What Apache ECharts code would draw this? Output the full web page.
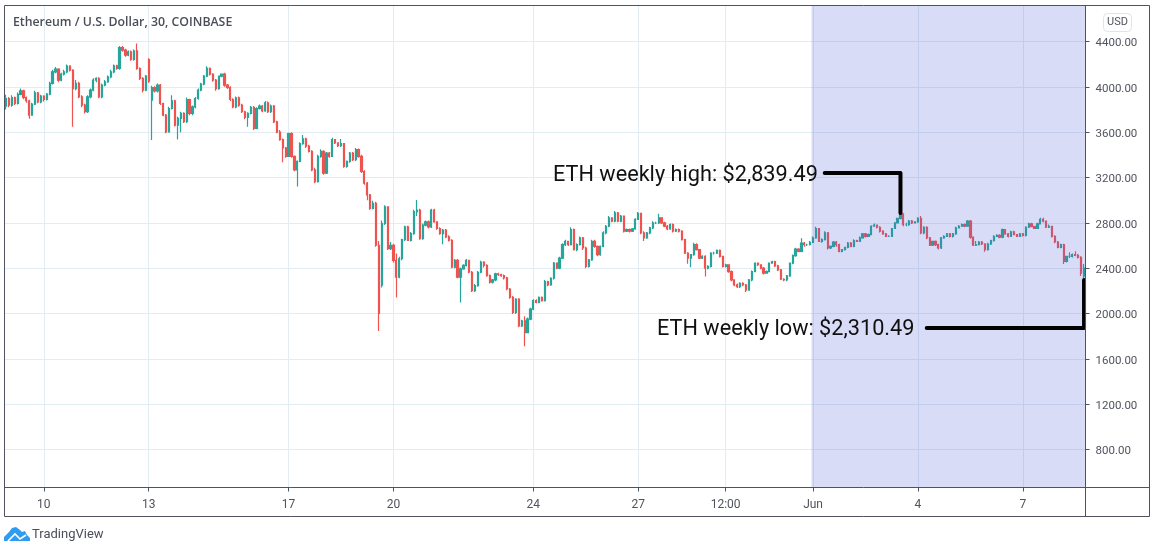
<!DOCTYPE html>
<html>
<head>
<meta charset="utf-8">
<style>html,body{margin:0;padding:0;background:#fff}#c{width:1156px;height:553px}</style>
<script src="https://cdn.jsdelivr.net/npm/echarts@6/dist/echarts.min.js"></script>
</head>
<body>
<div id="c"></div>
<script>
const opens = [
3830,3897,3838,3906,3853,3933,3965,3906,3877,3750,
3847,3947,3868,3918,3888,3935,4030,4132,4156,4059,
4112,4132,4182,4147,3985,4030,3912,3838,3780,3912,
3971,4059,4074,3912,4015,4044,4088,4132,4185,4162,
4347,4324,4279,4309,4241,4318,4162,4074,3971,4240,
3882,3994,3965,4015,3853,3750,3603,3809,3877,3662,
3721,3765,3692,3888,3765,3824,3897,3971,4024,4094,
4162,4112,4059,3985,4094,4112,4015,3994,3888,3824,
3903,3838,3780,3730,3765,3818,3633,3809,3830,3788,
3859,3780,3830,3691,3600,3535,3461,3387,3588,3387,
3268,3342,3499,3541,3476,3431,3268,3164,3387,3431,
3239,3416,3387,3535,3505,3481,3499,3298,3342,3416,
3357,3446,3387,3253,3150,3046,2927,2972,2602,2250,
2794,2942,2572,2601,2468,2320,2483,2652,2764,2646,
2705,2898,2913,2661,2779,2809,2764,2913,2809,2750,
2705,2735,2676,2646,2409,2468,2320,2394,2424,2468,
2364,2201,2246,2364,2453,2424,2335,2276,2296,2350,
2344,2335,2314,2216,2142,2009,2127,1890,1935,1831,
1950,2038,2113,2098,2142,2113,2281,2252,2311,2444,
2400,2489,2607,2637,2607,2741,2563,2607,2667,2578,
2415,2474,2637,2593,2519,2593,2711,2770,2844,2815,
2889,2815,2859,2726,2741,2726,2747,2830,2883,2711,
2667,2711,2755,2800,2800,2844,2800,2770,2747,2785,
2726,2741,2726,2652,2533,2489,2519,2607,2563,2489,
2504,2400,2415,2533,2533,2557,2504,2415,2430,2370,
2296,2252,2237,2267,2252,2207,2296,2370,2444,2430,
2400,2356,2370,2444,2459,2421,2385,2302,2296,2332,
2444,2510,2569,2548,2622,2607,2607,2628,2667,2750,
2637,2652,2711,2578,2593,2631,2607,2548,2563,2584,
2622,2593,2643,2637,2667,2702,2681,2696,2770,2779,
2761,2726,2702,2681,2681,2750,2800,2839,2880,2785,
2785,2815,2800,2809,2839,2711,2761,2667,2602,2637,
2607,2578,2667,2681,2702,2681,2702,2756,2770,2785,
2770,2815,2673,2602,2607,2631,2613,2563,2613,2643,
2681,2690,2673,2741,2702,2681,2720,2696,2681,2702,
2690,2761,2791,2767,2750,2791,2830,2815,2761,2770,
2681,2631,2584,2607,2459,2504,2504,2519,2513,2495,2330];
const closes = [
3897,3838,3906,3853,3933,3965,3906,3877,3750,3847,
3947,3868,3918,3888,3935,4030,4132,4156,4059,4112,
4132,4182,4147,3985,4030,3912,3838,3780,3912,3971,
4059,4074,3912,4015,4044,4088,4132,4185,4162,4347,
4324,4279,4309,4241,4318,4162,4074,3971,4094,4050,
3994,3965,4015,3853,3750,3603,3809,3877,3662,3721,
3765,3692,3888,3765,3824,3897,3971,4024,4094,4162,
4112,4059,3985,4094,4112,4015,3994,3888,3824,3903,
3838,3780,3730,3765,3818,3633,3809,3830,3788,3859,
3780,3830,3691,3600,3535,3461,3387,3588,3387,3268,
3342,3499,3541,3476,3431,3268,3164,3387,3431,3239,
3416,3387,3535,3505,3481,3499,3298,3342,3416,3357,
3446,3387,3253,3150,3046,2927,2972,2602,2000,2794,
2942,2572,2601,2468,2320,2483,2652,2764,2646,2705,
2898,2913,2661,2779,2809,2764,2913,2809,2750,2705,
2735,2676,2646,2409,2468,2320,2394,2424,2468,2364,
2201,2246,2364,2453,2424,2335,2276,2296,2350,2344,
2335,2314,2216,2142,2009,2127,1890,1935,1831,1950,
2038,2113,2098,2142,2113,2281,2252,2311,2444,2400,
2489,2607,2637,2607,2741,2563,2607,2667,2578,2415,
2474,2637,2593,2519,2593,2711,2770,2844,2815,2889,
2815,2859,2726,2741,2726,2747,2830,2883,2711,2667,
2711,2755,2800,2800,2844,2800,2770,2747,2785,2726,
2741,2726,2652,2533,2489,2519,2607,2563,2489,2504,
2400,2415,2533,2533,2557,2504,2415,2430,2370,2296,
2252,2237,2267,2252,2207,2296,2370,2444,2430,2400,
2356,2370,2444,2459,2421,2385,2302,2296,2332,2444,
2510,2569,2548,2622,2607,2607,2628,2667,2750,2637,
2652,2711,2578,2593,2631,2607,2548,2563,2584,2622,
2593,2643,2637,2667,2702,2681,2696,2770,2779,2761,
2726,2702,2681,2681,2750,2800,2839,2880,2785,2785,
2815,2800,2809,2839,2711,2761,2667,2602,2637,2607,
2578,2667,2681,2702,2681,2702,2756,2770,2785,2770,
2815,2673,2602,2607,2631,2613,2563,2613,2643,2681,
2690,2673,2741,2702,2681,2720,2696,2681,2702,2690,
2761,2791,2767,2750,2791,2830,2815,2761,2770,2681,
2631,2584,2607,2459,2504,2504,2519,2513,2495,2356,2400];
const highs = [
3930,3910,3925,3915,3950,3985,3975,3915,3885,3860,
3965,3955,3930,3925,3945,4045,4150,4176,4165,4125,
4150,4196,4190,4155,4060,4045,3925,3850,3925,3985,
4075,4085,4085,4030,4060,4100,4150,4197,4195,4360,
4360,4335,4320,4320,4330,4382,4170,4085,4105,4253,
4010,4006,4030,4025,3860,3760,3825,3925,3885,3735,
3780,3775,3905,3895,3835,3910,3985,4035,4105,4182,
4170,4120,4070,4000,4110,4125,4025,4005,3900,3915,
3915,3850,3790,3775,3830,3830,3820,3845,3840,3875,
3870,3845,3840,3700,3620,3545,3470,3595,3600,3395,
3350,3510,3575,3550,3490,3440,3285,3400,3450,3440,
3425,3425,3550,3540,3505,3540,3505,3350,3425,3425,
3460,3455,3400,3265,3160,3055,2995,2985,2640,2820,
2955,2945,2630,2615,2530,2500,2660,2775,2775,2720,
2915,3001,2925,2795,2820,2820,2925,2925,2815,2760,
2745,2745,2690,2655,2480,2480,2405,2435,2480,2475,
2375,2260,2375,2465,2460,2435,2345,2305,2360,2360,
2350,2345,2325,2225,2155,2135,2135,1945,1975,1965,
2050,2125,2125,2150,2150,2295,2290,2320,2455,2450,
2500,2620,2650,2640,2762,2750,2620,2680,2675,2590,
2480,2650,2650,2600,2600,2725,2780,2860,2850,2905,
2895,2870,2865,2750,2750,2755,2840,2895,2885,2725,
2720,2765,2815,2810,2880,2850,2810,2780,2795,2795,
2750,2750,2735,2660,2540,2525,2625,2620,2570,2515,
2515,2425,2540,2545,2565,2565,2510,2440,2435,2380,
2300,2265,2275,2275,2260,2305,2380,2450,2450,2435,
2410,2380,2450,2465,2465,2430,2392,2310,2340,2450,
2520,2580,2575,2665,2630,2615,2640,2680,2765,2755,
2665,2725,2720,2600,2640,2640,2615,2570,2590,2630,
2630,2655,2650,2680,2710,2710,2705,2778,2795,2785,
2770,2735,2710,2690,2755,2805,2845,2898,2885,2800,
2825,2825,2815,2850,2860,2770,2770,2675,2640,2645,
2615,2675,2690,2710,2710,2710,2765,2780,2795,2795,
2825,2825,2680,2640,2640,2640,2620,2625,2650,2690,
2700,2700,2750,2745,2710,2730,2730,2700,2710,2710,
2770,2800,2800,2775,2800,2845,2845,2820,2785,2775,
2690,2640,2615,2615,2510,2540,2530,2550,2525,2505,2436];
const lows = [
3800,3820,3825,3840,3845,3925,3890,3860,3718,3745,
3840,3855,3855,3870,3880,3925,4020,4120,4040,4050,
4100,4120,4135,3647,3970,3900,3820,3765,3770,3900,
3960,4040,3900,3900,4005,4035,4075,4120,4150,4150,
4310,4265,4270,4230,4230,4150,4060,3950,3960,4035,
3530,3950,3950,3840,3740,3590,3595,3800,3650,3535,
3600,3680,3680,3750,3750,3810,3885,3960,4015,4085,
4100,4045,3965,3975,4085,4000,3980,3875,3810,3810,
3825,3770,3715,3647,3755,3620,3625,3800,3775,3780,
3770,3770,3680,3590,3525,3335,3375,3380,3375,3255,
3120,3335,3490,3460,3420,3255,3150,3155,3375,3225,
3230,3375,3380,3495,3470,3470,3285,3285,3330,3345,
3345,3375,3240,3135,3000,2915,2920,2590,1846,2230,
2780,2560,2560,2450,2142,2310,2470,2640,2640,2635,
2695,2860,2650,2650,2770,2750,2755,2800,2740,2695,
2610,2665,2635,2400,2400,2310,2098,2385,2415,2355,
2190,2190,2235,2355,2405,2325,2265,2265,2285,2330,
2325,2300,2205,2130,1995,1995,1880,1880,1712,1825,
1940,2030,2090,2090,2105,2105,2240,2245,2300,2390,
2390,2480,2595,2595,2600,2555,2550,2600,2560,2400,
2405,2465,2580,2505,2510,2585,2700,2760,2805,2805,
2805,2805,2715,2720,2715,2720,2740,2825,2700,2640,
2660,2700,2745,2790,2790,2790,2760,2735,2740,2715,
2720,2715,2645,2525,2440,2409,2510,2555,2480,2480,
2326,2390,2405,2520,2525,2495,2405,2405,2360,2285,
2240,2225,2225,2240,2190,2200,2285,2365,2420,2390,
2345,2350,2365,2440,2410,2375,2295,2285,2285,2325,
2435,2500,2540,2540,2590,2595,2600,2620,2660,2630,
2625,2645,2565,2570,2585,2590,2540,2540,2555,2575,
2585,2585,2630,2630,2660,2670,2675,2690,2765,2750,
2715,2695,2675,2675,2675,2745,2795,2830,2770,2770,
2775,2790,2795,2800,2700,2700,2655,2595,2595,2595,
2565,2570,2660,2675,2670,2670,2695,2750,2765,2760,
2765,2660,2595,2595,2600,2605,2545,2555,2605,2635,
2675,2665,2665,2695,2670,2675,2690,2675,2675,2680,
2680,2755,2760,2745,2745,2785,2805,2755,2755,2670,
2620,2575,2575,2436,2450,2490,2495,2505,2485,2330,2311];

const xTickIndex = [13,49,97,133,181,217,247,277,313,349];
const xTickLabels = ['10','13','17','20','24','27','12:00','Jun','4','7'];
const yTicks = [800,1200,1600,2000,2400,2800,3200,3600,4000,4400];
const highCallout = [[281,3240],[307,3240],[307,2887]];
const lowCallout = [[316,1872],[369.7,1872],[369.7,2296]];
const highText = 'ETH weekly high: $2,839.49';
const lowText = 'ETH weekly low: $2,310.49';

const categories = opens.map((_, i) => new Date(Date.UTC(2021, 4, 8, 22 + 2 * i)).toISOString().slice(0, 16));
const candles = opens.map((o, i) => [o, closes[i], lows[i], highs[i]]);
const isTick = i => xTickIndex.indexOf(i) >= 0;
const ink = '#50535e', gridCol = '#e1ecf3';
const uiFont = 'Roboto';

const chart = echarts.init(document.getElementById('c'), null, {renderer: 'canvas'});
chart.setOption({
  animation: false,
  backgroundColor: '#fff',
  grid: {left: 4.5, right: 70.5, top: 5.5, bottom: 65.5, containLabel: false},
  xAxis: {
    type: 'category', data: categories, boundaryGap: true,
    axisLine: {show: false},
    axisTick: {show: true, length: 4, alignWithLabel: true, interval: i => isTick(i), lineStyle: {color: ink}},
    axisLabel: {show: true, interval: i => isTick(i), formatter: (v, i) => xTickLabels[xTickIndex.indexOf(i)] || '', color: ink, fontFamily: uiFont, fontSize: 12, margin: 11},
    splitLine: {show: true, alignWithLabel: true, interval: i => isTick(i), lineStyle: {color: gridCol, width: 1}}
  },
  yAxis: {
    type: 'value', position: 'right', min: 464.7, max: 4717.6, scale: true,
    axisLine: {show: false},
    axisTick: {show: true, length: 4, customValues: yTicks, lineStyle: {color: ink}},
    axisLabel: {show: true, customValues: yTicks, formatter: v => '{p|' + v.toFixed(2) + '}', margin: 10,
      rich: {p: {color: ink, fontFamily: uiFont, fontSize: 11.5, padding: [4, 0, 0, 0]}}},
    splitLine: {show: true, lineStyle: {color: gridCol, width: 1}}
  },
  series: [
    {type: 'candlestick', data: candles, barWidth: 1.7, z: 2,
     itemStyle: {color: '#26a69a', color0: '#ef5350', borderColor: '#26a69a', borderColor0: '#ef5350', borderWidth: 1.2}},
    {type: 'line', data: [], z: 5, silent: true,
     markArea: {silent: true, z: 5, itemStyle: {color: 'rgba(84,97,216,0.225)'}, data: [[{x: 811.5, y: 5.5}, {x: 1085.5, y: 487.5}]]}},
    {type: 'line', data: highCallout, z: 8, silent: true, showSymbol: false, symbol: 'none', lineStyle: {color: '#000', width: 4, cap: 'round', join: 'round'}},
    {type: 'line', data: lowCallout, z: 8, silent: true, showSymbol: false, symbol: 'none', lineStyle: {color: '#000', width: 4, cap: 'round', join: 'round'}}
  ],
  graphic: [
    {type: 'rect', silent: true, z: 20, shape: {x: 4.5, y: 5.5, width: 1145, height: 511}, style: {fill: 'none', stroke: ink, lineWidth: 1}},
    {type: 'line', silent: true, z: 20, shape: {x1: 1085.5, y1: 5.5, x2: 1085.5, y2: 516.5}, style: {stroke: ink, lineWidth: 1}},
    {type: 'line', silent: true, z: 20, shape: {x1: 4.5, y1: 487.5, x2: 1149.5, y2: 487.5}, style: {stroke: ink, lineWidth: 1}},
    {type: 'text', silent: true, z: 20, x: 13, y: 22, style: {text: 'Ethereum / U.S. Dollar, 30, COINBASE', fill: '#4a4e5a', font: '600 12.3px "Open Sans"', verticalAlign: 'middle'}},
    {type: 'text', silent: true, z: 20, x: 553, y: 176, style: {text: highText, fill: '#111', font: '400 21.7px Roboto', verticalAlign: 'middle'}},
    {type: 'text', silent: true, z: 20, x: 657, y: 330, style: {text: lowText, fill: '#111', font: '400 21.7px Roboto', verticalAlign: 'middle'}},
    {type: 'rect', silent: true, z: 20, shape: {x: 1103.5, y: 13.5, width: 28, height: 18, r: 4}, style: {fill: '#fff', stroke: '#e0e3eb', lineWidth: 1}},
    {type: 'text', silent: true, z: 21, x: 1117.5, y: 22.5, style: {text: 'USD', fill: ink, font: '11px Roboto', align: 'center', verticalAlign: 'middle'}},
    {type: 'polygon', silent: true, z: 20, shape: {points: [[4,541],[4,537],[9,532],[12,528],[16,527],[20,530],[22,532],[25,531],[27,535],[30,538],[30,541]]}, style: {fill: '#2f9cf0'}},
    {type: 'polyline', silent: true, z: 21, shape: {points: [[8, 541], [15, 534], [20, 539], [26, 535]]}, style: {fill: 'none', stroke: '#fff', lineWidth: 1.6}},
    {type: 'text', silent: true, z: 20, x: 32, y: 534.5, style: {text: 'TradingView', fill: '#4a4e5a', font: '13px Roboto', verticalAlign: 'middle'}}
  ]
});
</script>
</body>
</html>
